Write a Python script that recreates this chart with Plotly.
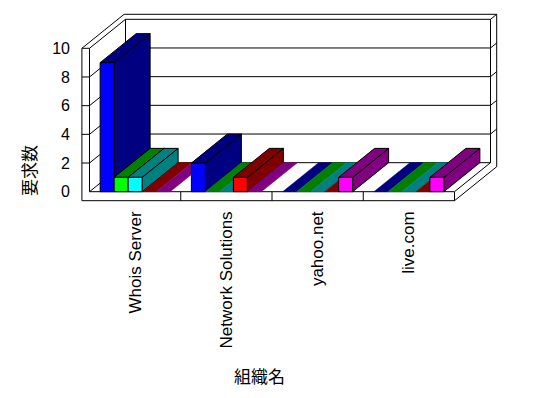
import plotly.graph_objects as go

# ---------------- data ----------------
categories = ["Whois Server", "Network Solutions", "yahoo.net", "live.com"]
series_names = ["系列1", "系列2", "系列3", "系列4", "系列5"]
s_blue = [9, 2, 0, 0]
s_green = [1, 0, 0, 0]
s_cyan = [1, 0, 0, 0]
s_red = [0, 1, 0, 0]
s_magenta = [0, 0, 1, 1]
series_values = [s_blue, s_green, s_cyan, s_red, s_magenta]
y_ticks = [0, 2, 4, 6, 8, 10]
y_title = "要求数"
x_title = "組織名"

# ---------------- style ----------------
front_colors = ["#0000FF", "#00FF00", "#00FFFF", "#FF0000", "#FF00FF"]
side_colors = ["#000080", "#008000", "#008080", "#800000", "#800080"]
FONT = "Liberation Sans, Arial, sans-serif"
CJK = "Noto Sans CJK JP, sans-serif"

W, H = 548, 398
# pixel calibration of the chart box
PX0, PXU = 89.5, 91.25      # pixel of category 0, pixels per category
PY0, PYU = 191.7, 14.34     # pixel of value 0, pixels per value unit
ML, MR, MT, MB = 71, 30, 5, 191
x_range = [(ML - PX0) / PXU, (W - MR - PX0) / PXU]
y_range = [(PY0 - (H - MB)) / PYU, (PY0 - MT) / PYU]

# oblique depth projection (depth 1 = full bar depth)
DX = 36.0 / PXU
DV = 29.0 / PYU
WALL = 7.6 / PXU        # left wall thickness (category units)
FLOOR = 9.0 / PYU       # floor thickness (value units)
BACK = 0.172            # back wall thickness (depth units)
NCAT = len(categories)
VMAX = max(y_ticks)
GAP = 0.1165
BW = (1 - 2 * GAP) / len(series_values)


def P(x, v, z):
    return x + z * DX, v + z * DV


def path(points):
    xs, ys = [], []
    for p in points:
        if p is None:
            xs.append(None)
            ys.append(None)
        else:
            a, b = P(*p)
            xs.append(a)
            ys.append(b)
    return xs, ys


fig = go.Figure()

# ---------------- walls & floor (outlines) ----------------
segs = []
# front L face (left wall front + floor front)
segs += [(-WALL, -FLOOR, 0), (-WALL, VMAX, 0), (0, VMAX, 0), (0, 0, 0),
         (NCAT, 0, 0), (NCAT, -FLOOR, 0), (-WALL, -FLOOR, 0), None]
# ticks on left wall front
for k in y_ticks:
    if 0 < k < VMAX:
        segs += [(-WALL, k, 0), (0, k, 0), None]
# category separators on floor front
for g in range(1, NCAT):
    segs += [(g, 0, 0), (g, -FLOOR, 0), None]
# outer top / right outline
segs += [(-WALL, VMAX, 0), (-WALL, VMAX, 1 + BACK), (NCAT, VMAX, 1 + BACK),
         (NCAT, -FLOOR, 1 + BACK), (NCAT, -FLOOR, 0), None]
# floor right top edge and back wall front edges
segs += [(NCAT, 0, 0), (NCAT, 0, 1), (NCAT, VMAX, 1), None]
segs += [(0, 0, 1), (0, VMAX, 1), None]
# gridlines: left wall diagonals + back wall horizontals
for k in y_ticks:
    segs += [(0, k, 0), (0, k, 1), (NCAT, k, 1)]
    if k > 0:
        segs += [(NCAT, k, 1 + BACK)]
    segs += [None]

xs, ys = path(segs)
fig.add_trace(go.Scatter(x=xs, y=ys, mode="lines", line=dict(color="black", width=1),
                         hoverinfo="skip", showlegend=False))

# ---------------- bars ----------------
for g in range(NCAT):
    for i, vals in enumerate(series_values):
        v = vals[g]
        x0 = g + GAP + i * BW
        x1 = x0 + BW
        lw = 1 if v > 0 else 0
        faces = []
        if v > 0:
            faces.append(([(x1, 0, 0), (x1, 0, 1), (x1, v, 1), (x1, v, 0), (x1, 0, 0)], side_colors[i]))
        faces.append(([(x0, v, 0), (x1, v, 0), (x1, v, 1), (x0, v, 1), (x0, v, 0)], side_colors[i]))
        if v > 0:
            faces.append(([(x0, 0, 0), (x1, 0, 0), (x1, v, 0), (x0, v, 0), (x0, 0, 0)], front_colors[i]))
        for pts, col in faces:
            fx, fy = path(pts)
            fig.add_trace(go.Scatter(
                x=fx, y=fy, mode="lines", fill="toself", fillcolor=col,
                line=dict(color="black" if lw else col, width=lw if lw else 0.5),
                name=series_names[i], hoverinfo="skip", showlegend=False))

# ---------------- layout ----------------
fig.update_layout(
    width=W, height=H,
    margin=dict(l=ML, r=MR, t=MT, b=MB, pad=0),
    paper_bgcolor="white", plot_bgcolor="white",
    showlegend=False,
    font=dict(family=FONT, size=16, color="black"),
    xaxis=dict(range=x_range, showgrid=False, zeroline=False, showline=False,
               tickmode="array", tickvals=[g + 0.5 for g in range(NCAT)],
               ticktext=categories, tickangle=-90, ticks="",
               tickfont=dict(family=FONT, size=17), fixedrange=True),
    yaxis=dict(range=y_range, showgrid=False, zeroline=False, showline=False,
               tickmode="array", tickvals=y_ticks, ticktext=[str(t) for t in y_ticks],
               ticks="", tickfont=dict(family=FONT, size=16), fixedrange=True),
    annotations=[
        dict(text=y_title, xref="paper", yref="paper",
             x=(28 - ML) / (W - ML - MR), y=1 - (171 - MT) / (H - MT - MB),
             showarrow=False, textangle=-90, font=dict(family=CJK, size=17),
             xanchor="center", yanchor="middle"),
        dict(text=x_title, xref="paper", yref="paper",
             x=(259 - ML) / (W - ML - MR), y=1 - (375 - MT) / (H - MT - MB),
             showarrow=False, font=dict(family=CJK, size=17),
             xanchor="center", yanchor="middle"),
    ],
)

fig.write_html("out.html")
